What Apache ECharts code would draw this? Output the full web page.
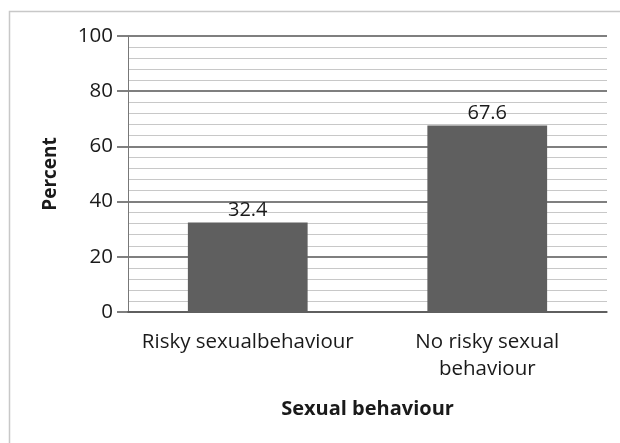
<!DOCTYPE html>
<html>
<head>
<meta charset="utf-8">
<script src="https://cdn.jsdelivr.net/npm/echarts@6/dist/echarts.min.js"></script>
<style>
html, body { margin: 0; padding: 0; background: #fff; }
#main { width: 620px; height: 443px; }
</style>
</head>
<body>
<div id="main"></div>
<script>
var categories = ['Risky sexualbehaviour', 'No risky sexual\nbehaviour'];
var percents = [32.4, 67.6];
var yTicks = [0, 20, 40, 60, 80, 100];

var fontFamily = 'Open Sans';
var myChart = echarts.init(document.getElementById('main'));

var option = {
	animation: false,
	backgroundColor: '#fff',
	graphic: [{
		type: 'rect',
		shape: { x: 9.5, y: 11.5, width: 620, height: 440 },
		style: { fill: 'none', stroke: '#c8c8c8', lineWidth: 1.5 },
		silent: true
	}],
	grid: {
		left: 128,
		right: 13,
		top: 36,
		bottom: 131
	},
	xAxis: {
		type: 'category',
		data: categories,
		name: 'Sexual behaviour',
		nameLocation: 'middle',
		nameGap: 87,
		nameTextStyle: {
			fontFamily: fontFamily,
			fontSize: 20,
			fontWeight: 'bold',
			color: '#1a1a1a'
		},
		axisLine: { lineStyle: { color: '#555', width: 1.5 } },
		axisTick: { show: false },
		axisLabel: {
			interval: 0,
			hideOverlap: false,
			fontFamily: fontFamily,
			fontSize: 20.5,
			color: '#1a1a1a',
			margin: 17,
			lineHeight: 27
		}
	},
	yAxis: {
		type: 'value',
		min: yTicks[0],
		max: yTicks[yTicks.length - 1],
		interval: 20,
		name: 'Percent',
		nameLocation: 'middle',
		nameGap: 68,
		nameRotate: 90,
		nameTextStyle: {
			fontFamily: fontFamily,
			fontSize: 19,
			fontWeight: 'bold',
			color: '#1a1a1a'
		},
		axisLine: { show: true, lineStyle: { color: '#777', width: 1 } },
		axisTick: { show: true, length: 11, lineStyle: { color: '#555', width: 1.5 } },
		axisLabel: {
			fontFamily: fontFamily,
			fontSize: 20.5,
			color: '#1a1a1a',
			margin: 15
		},
		splitLine: { show: true, lineStyle: { color: '#555', width: 1.5 } },
		minorTick: { show: false, splitNumber: 5 },
		minorSplitLine: { show: true, lineStyle: { color: '#c8c8c8', width: 1 } }
	},
	series: [{
		type: 'bar',
		data: percents,
		barWidth: '50%',
		itemStyle: { color: '#5f5f5f' },
		label: {
			show: true,
			position: 'top',
			distance: 2,
			fontFamily: fontFamily,
			fontSize: 20,
			color: '#1a1a1a'
		}
	}]
};
myChart.setOption(option);
</script>
</body>
</html>
